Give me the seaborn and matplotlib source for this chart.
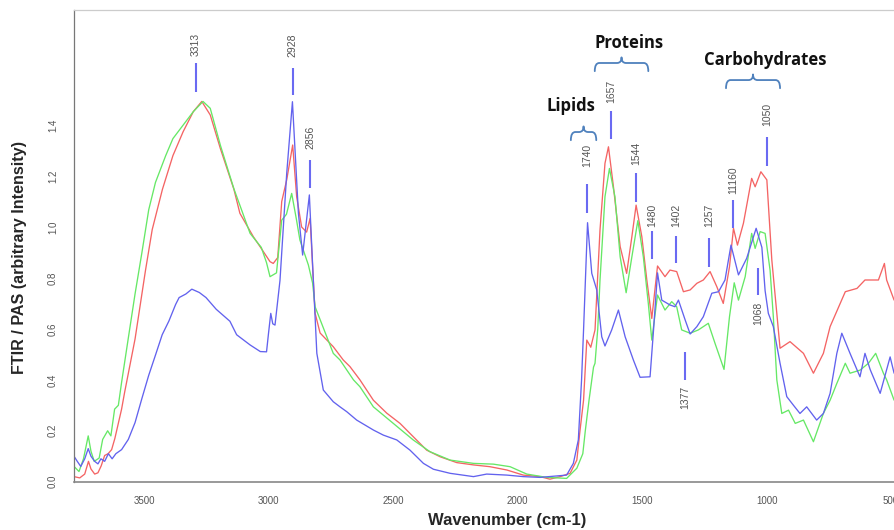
import pandas as pd
import matplotlib
matplotlib.use("Agg")
import matplotlib.pyplot as plt
import matplotlib.transforms as mtransforms
from matplotlib.path import Path
from matplotlib.patches import PathPatch
import seaborn as sns

# -------------------------------
# spectra (wavenumber cm-1 -> intensity)
# -------------------------------
red_wn = [3803, 3780, 3760, 3745, 3735, 3720, 3707, 3694, 3680, 3666, 3652, 3639, 3612, 3600,
          3558, 3516, 3489, 3448, 3406, 3365, 3324, 3290, 3256, 3215, 3161, 3137, 3083, 3056,
          3016, 3003, 2985, 2969, 2949, 2925, 2909, 2889, 2869, 2855, 2845, 2835, 2815, 2762,
          2722, 2695, 2655, 2601, 2547, 2494, 2441, 2387, 2333, 2266, 2199, 2133, 2065, 1999,
          1932, 1892, 1851, 1811, 1784, 1771, 1757, 1744, 1728, 1711, 1691, 1671, 1657, 1637,
          1610, 1584, 1563, 1546, 1523, 1503, 1483, 1460, 1430, 1410, 1383, 1356, 1329, 1302,
          1276, 1249, 1222, 1196, 1171, 1155, 1139, 1115, 1082, 1068, 1045, 1021, 1001, 981,
          968, 928, 874, 834, 794, 767, 706, 659, 627, 573, 549, 540, 510]
red_val = [0.02, 0.015, 0.03, 0.08, 0.05, 0.03, 0.035, 0.062, 0.103, 0.11, 0.126, 0.17, 0.285, 0.35,
           0.56, 0.83, 0.99, 1.148, 1.28, 1.374, 1.453, 1.493, 1.44, 1.307, 1.148, 1.054, 0.962, 0.923,
           0.864, 0.857, 0.88, 1.10, 1.185, 1.322, 1.119, 1.0, 0.98, 1.034, 0.844, 0.662, 0.584, 0.53,
           0.478, 0.452, 0.40, 0.32, 0.269, 0.229, 0.177, 0.124, 0.098, 0.075, 0.066, 0.059, 0.046, 0.026,
           0.02, 0.01, 0.02, 0.033, 0.085, 0.203, 0.32, 0.556, 0.528, 0.596, 0.988, 1.25, 1.315, 1.158,
           0.923, 0.818, 0.962, 1.086, 0.962, 0.792, 0.641, 0.847, 0.805, 0.831, 0.825, 0.746, 0.753, 0.779,
           0.792, 0.825, 0.766, 0.70, 0.844, 0.995, 0.929, 1.015, 1.191, 1.158, 1.217, 1.185, 0.87, 0.661,
           0.524, 0.55, 0.504, 0.426, 0.504, 0.609, 0.746, 0.759, 0.792, 0.792, 0.857, 0.792, 0.713]

green_wn = [3803, 3783, 3765, 3746, 3735, 3722, 3702, 3688, 3668, 3655, 3640, 3625, 3612, 3585,
            3558, 3531, 3503, 3476, 3435, 3406, 3365, 3324, 3285, 3256, 3215, 3161, 3096, 3051,
            3030, 3016, 2990, 2969, 2950, 2929, 2910, 2896, 2862, 2845, 2835, 2762, 2735, 2681,
            2655, 2601, 2521, 2441, 2374, 2293, 2199, 2119, 2052, 1985, 1905, 1825, 1784, 1760,
            1750, 1735, 1717, 1711, 1700, 1691, 1671, 1653, 1631, 1610, 1586, 1563, 1539, 1517,
            1497, 1483, 1460, 1430, 1403, 1383, 1363, 1329, 1296, 1256, 1229, 1193, 1171, 1152,
            1135, 1108, 1082, 1068, 1048, 1028, 1008, 995, 981, 961, 934, 907, 874, 834, 794, 767,
            740, 706, 687, 647, 613, 584, 553, 540, 510]
green_val = [0.06, 0.04, 0.09, 0.18, 0.12, 0.08, 0.093, 0.166, 0.2, 0.18, 0.285, 0.3, 0.39, 0.564,
             0.737, 0.896, 1.068, 1.175, 1.28, 1.347, 1.40, 1.453, 1.493, 1.466, 1.32, 1.15, 0.975, 0.92,
             0.86, 0.805, 0.82, 1.027, 1.05, 1.132, 1.03, 0.949, 0.851, 0.78, 0.687, 0.504, 0.478, 0.40,
             0.373, 0.294, 0.229, 0.164, 0.118, 0.085, 0.072, 0.069, 0.059, 0.03, 0.017, 0.013, 0.053, 0.11,
             0.2, 0.32, 0.45, 0.465, 0.6, 0.79, 1.119, 1.23, 1.119, 0.883, 0.742, 0.883, 1.025, 0.883,
             0.70, 0.556, 0.733, 0.674, 0.707, 0.687, 0.596, 0.583, 0.596, 0.622, 0.543, 0.441, 0.648, 0.781,
             0.713, 0.805, 0.975, 0.916, 0.982, 0.975, 0.83, 0.648, 0.40, 0.268, 0.281, 0.229, 0.242, 0.157, 0.268, 0.32,
             0.386, 0.465, 0.426, 0.438, 0.465, 0.504, 0.426, 0.40, 0.32]

blue_wn = [3803, 3790, 3776, 3760, 3746, 3735, 3720, 3707, 3695, 3680, 3665, 3650, 3635, 3612,
           3585, 3558, 3531, 3503, 3476, 3449, 3422, 3395, 3381, 3354, 3330, 3300, 3273, 3232,
           3177, 3150, 3096, 3055, 3030, 3022, 3013, 3005, 2996, 2976, 2949, 2926, 2902, 2885,
           2858, 2842, 2828, 2802, 2762, 2735, 2708, 2668, 2601, 2561, 2507, 2454, 2400, 2360,
           2293, 2199, 2146, 2065, 1999, 1932, 1825, 1798, 1778, 1765, 1757, 1741, 1724, 1704,
           1684, 1671, 1644, 1617, 1590, 1557, 1530, 1490, 1476, 1460, 1443, 1410, 1390, 1376,
           1349, 1329, 1302, 1276, 1242, 1215, 1189, 1165, 1135, 1102, 1064, 1041, 1028, 1015,
           995, 968, 941, 914, 888, 861, 821, 794, 767, 740, 720, 687, 647, 627, 606, 566, 526, 510]
blue_val = [0.10, 0.08, 0.06, 0.09, 0.13, 0.10, 0.08, 0.07, 0.09, 0.08, 0.11, 0.09, 0.11, 0.126,
            0.166, 0.232, 0.325, 0.418, 0.497, 0.577, 0.631, 0.696, 0.723, 0.737, 0.756, 0.743, 0.723, 0.677,
            0.63, 0.577, 0.537, 0.511, 0.51, 0.583, 0.661, 0.62, 0.615, 0.79, 1.21, 1.492, 1.054, 0.89,
            1.126, 0.79, 0.504, 0.36, 0.314, 0.294, 0.275, 0.242, 0.203, 0.183, 0.164, 0.124, 0.072, 0.049,
            0.033, 0.02, 0.03, 0.026, 0.02, 0.017, 0.026, 0.072, 0.164, 0.40, 0.596, 1.017, 0.818, 0.753,
            0.569, 0.533, 0.596, 0.674, 0.569, 0.478, 0.41, 0.412, 0.596, 0.82, 0.713, 0.694, 0.687, 0.713,
            0.635, 0.58, 0.609, 0.648, 0.74, 0.746, 0.792, 0.929, 0.812, 0.877, 0.995, 0.92, 0.75, 0.661,
            0.609, 0.465, 0.334, 0.30, 0.268, 0.294, 0.242, 0.268, 0.347, 0.504, 0.583, 0.504, 0.412, 0.504, 0.44, 0.347, 0.49, 0.426]

# peak markers: position, label, line bottom / top, label centre
peak_pos = [3313, 2925, 2854, 1743, 1647, 1546, 1482, 1384, 1253, 1156, 1020, 1349, 1056]
peak_labels = ["3313", "2928", "2856", "1740", "1657", "1544", "1480", "1402", "1257",
               "11160", "1050", "1377", "1068"]
peak_lo = [1.531, 1.517, 1.153, 1.055, 1.345, 1.100, 0.874, 0.858, 0.843, 0.996, 1.239, 0.400, 0.733]
peak_hi = [1.643, 1.626, 1.262, 1.167, 1.457, 1.212, 0.984, 0.964, 0.957, 1.108, 1.353, 0.510, 0.839]
peak_text_y = [1.715, 1.715, 1.352, 1.283, 1.534, 1.290, 1.047, 1.047, 1.047, 1.184, 1.443, 0.329, 0.662]

# band groups (brackets)
group_names = ["Lipids", "Proteins", "Carbohydrates"]
group_left = [1808, 1712, 1185]
group_right = [1706, 1497, 968]
group_y = [1.373, 1.644, 1.577]
group_text_x = [1807, 1574, 1028]
group_text_y = [1.477, 1.723, 1.656]

# -------------------------------
# long-form table
# -------------------------------
df = pd.concat([
    pd.DataFrame({"wavenumber": red_wn, "intensity": red_val, "sample": "red"}),
    pd.DataFrame({"wavenumber": green_wn, "intensity": green_val, "sample": "green"}),
    pd.DataFrame({"wavenumber": blue_wn, "intensity": blue_val, "sample": "blue"}),
])

sns.set_style("white")
plt.rcParams["font.family"] = ["Liberation Sans", "DejaVu Sans"]

fig = plt.figure(figsize=(8.94, 5.30), dpi=100)
ax = fig.add_axes([0.0828, 0.0911, 0.98, 0.89])

sns.lineplot(
    data=df, x="wavenumber", y="intensity", hue="sample",
    palette={"red": "#f46464", "green": "#66e866", "blue": "#6262ee"},
    estimator=None, sort=False, linewidth=0.95, legend=False, ax=ax,
)

ax.set_xlim(3803, 285)
ax.set_ylim(0, 1.852)
ax.set_xticks([3500, 3000, 2500, 2000, 1500, 1000, 500])
ax.set_xticklabels(["3500", "3000", "2500", "2000", "1500", "1000", "500"])
ax.set_yticks([0, 0.2, 0.4, 0.6, 0.8, 1.0, 1.2, 1.4])
ax.set_yticklabels(["0.0", "0.2", "0.4", "0.6", "0.8", "1.0", "1.2", "1.4"],
                   rotation=90, va="center")
ax.tick_params(axis="both", labelsize=7, colors="#555555", length=3.6, width=0.8)
ax.tick_params(axis="y", pad=8)
ax.tick_params(axis="x", pad=6.5)
# x labels sit a few pixels left of their ticks in the original
shift = mtransforms.ScaledTranslation(-0.055, 0, fig.dpi_scale_trans)
for lab in ax.get_xticklabels():
    lab.set_transform(lab.get_transform() + shift)
ax.set_xlabel("")
ax.set_ylabel("")

ax.spines["right"].set_visible(False)
ax.spines["top"].set_color("#cccccc")
ax.spines["top"].set_linewidth(0.9)
ax.spines["left"].set_color("#777777")
ax.spines["left"].set_linewidth(0.9)
ax.spines["bottom"].set_color("#888888")
ax.spines["bottom"].set_linewidth(1.2)

# peak markers
for pos, lab, lo, hi, ty in zip(peak_pos, peak_labels, peak_lo, peak_hi, peak_text_y):
    ax.plot([pos, pos], [lo, hi], color="#6a6af2", linewidth=1.5, solid_capstyle="butt")
    ax.text(pos, ty, lab, rotation=90, ha="center", va="center",
            fontsize=7.5, color="#555555")

# group brackets (curly braces)
for name, xl, xr, yb, tx, tyy in zip(group_names, group_left, group_right, group_y,
                                     group_text_x, group_text_y):
    mid = (xl + xr) / 2
    e = 18 if xr < xl else -18
    d, d2 = 0.032, 0.022
    verts = [(xl, yb - d), (xl, yb), (xl - e, yb),
             (mid + e, yb), (mid, yb), (mid, yb + d2),
             (mid, yb), (mid - e, yb),
             (xr + e, yb), (xr, yb), (xr, yb - d)]
    codes = [Path.MOVETO, Path.CURVE3, Path.CURVE3,
             Path.LINETO, Path.CURVE3, Path.CURVE3,
             Path.CURVE3, Path.CURVE3,
             Path.LINETO, Path.CURVE3, Path.CURVE3]
    ax.add_patch(PathPatch(Path(verts, codes), fill=False, edgecolor="#4f81bd",
                           linewidth=1.3, capstyle="round", joinstyle="round"))
    ax.text(tx, tyy, name, ha="center", va="center", fontsize=12,
            fontweight="bold", family=["Open Sans", "DejaVu Sans"], color="#111111")

fig.text(507 / 894, 1 - 521 / 530, "Wavenumber (cm-1)", ha="center", va="center",
         fontsize=12, fontweight="bold")
fig.text(20 / 894, 1 - 258 / 530, "FTIR / PAS (arbitrary Intensity)", ha="center",
         va="center", rotation=90, fontsize=11.6, fontweight="bold")

fig.savefig("out.png", dpi=100)
